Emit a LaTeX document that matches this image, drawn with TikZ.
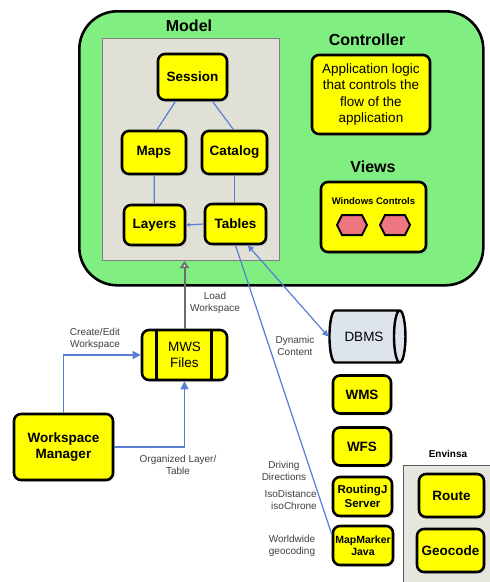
\documentclass[tikz,border=0pt]{standalone}
\usepackage{fontspec}
\setmainfont{Liberation Sans}
\usepackage{xcolor}
\usepackage{tikz}
\usetikzlibrary{arrows.meta, positioning, shapes.geometric, shadows}

\definecolor{mvcgreen}{RGB}{128,238,128}
\definecolor{modelgray}{RGB}{224,224,214}
\definecolor{boxyellow}{RGB}{255,255,0}
\definecolor{linkblue}{RGB}{88,126,212}
\definecolor{notegray}{RGB}{64,64,64}
\definecolor{hexpink}{RGB}{238,118,128}
\definecolor{dbfill}{RGB}{222,228,236}

\begin{document}
\begin{tikzpicture}[x=1pt, y=-1pt,
  yellowbox/.style={draw, line width=2.6pt, rounded corners=7pt, fill=boxyellow, align=center, inner sep=0pt,
    drop shadow={opacity=0.15, shadow xshift=2pt, shadow yshift=-2pt},
    font=\bfseries\fontsize{13.5}{16}\selectfont},
  note/.style={text=notegray, align=center, inner sep=0pt, font=\fontsize{10}{12.5}\selectfont},
  title/.style={inner sep=0pt, font=\bfseries\fontsize{16}{18}\selectfont},
  link/.style={draw=linkblue, line width=1.2pt},
  tip/.style={-{Triangle[length=8pt, width=8pt]}}]
\useasboundingbox[fill=white] (0,0) rectangle (490,582);

% MVC container
\node[draw, line width=2.6pt, rounded corners=38pt, fill=mvcgreen, anchor=north west,
  minimum width=404, minimum height=274] (mvc) at (78,10) {};
\node[draw=gray, line width=1pt, fill=modelgray, anchor=north west,
  minimum width=177, minimum height=222] (modelbox) at (102,38) {};
\node[title] (modeltitle) at (189,26) {Model};
\node[title] (ctrltitle) at (367,40) {Controller};
\node[title] (viewstitle) at (373,167) {Views};

% model
\node[yellowbox, minimum width=69, minimum height=46] (session) at (192.5,77) {Session};
\node[yellowbox, minimum width=64, minimum height=43] (maps) at (154,152.5) {Maps};
\node[yellowbox, minimum width=65, minimum height=43] (catalog) at (234.5,152.5) {Catalog};
\node[yellowbox, minimum width=61, minimum height=40] (layers) at (154.5,225) {Layers};
\node[yellowbox, minimum width=61, minimum height=40] (tables) at (235.5,224) {Tables};

\draw[link] ([xshift=-17pt]session.south) -- ([xshift=3pt]maps.north);
\draw[link] ([xshift=20pt]session.south) -- ([xshift=-1pt]catalog.north);
\draw[link] (maps) -- (layers);
\draw[link] (catalog.south) -- (catalog.south |- tables.north);
\draw[link, {Stealth[length=4pt, width=4pt]}-] (layers.east) -- (tables.west);

% controller and views
\node[yellowbox, minimum width=118, minimum height=79, font=\fontsize{13.5}{16.5}\selectfont] (ctrl) at (371,94.5)
  {Application logic\\that controls the\\flow of the\\application};
\node[yellowbox, minimum width=105, minimum height=70] (views) at (373.5,217) {};
\node[inner sep=0pt, font=\bfseries\fontsize{9.5}{11}\selectfont] (wincontrols) at (373.5,201) {Windows Controls};
\foreach \x in {352,395} {
  \draw[line width=2pt, fill=hexpink] (\x-15,225) -- (\x-10,215) -- (\x+10,215) -- (\x+15,225)
    -- (\x+10,235) -- (\x-10,235) -- cycle;
}

% workspace
\node[yellowbox, minimum width=85, minimum height=50, font=\fontsize{13.5}{16}\selectfont] (mws) at (184.5,355) {MWS\\Files};
\draw[line width=2.6pt] ([xshift=16pt]mws.north west) -- ([xshift=16pt]mws.south west);
\draw[line width=2.6pt] ([xshift=-17pt]mws.north east) -- ([xshift=-17pt]mws.south east);
\node[yellowbox, minimum width=99, minimum height=66] (wsm) at (63.5,447) {Workspace\\Manager};

\draw[draw=gray!85!black, line width=2pt, -{Triangle[length=7pt, width=9pt, fill=white]}]
  (mws.north) -- (mws.north |- modelbox.south);
\draw[link, tip] (wsm.north) |- (mws.west);
\draw[link, tip] (wsm.east) -| (mws.south);

\node[note] (loadlbl) at (215,303) {Load\\Workspace};
\node[note] (createlbl) at (95,339) {Create/Edit\\Workspace};
\node[note] (orglbl) at (178,465) {Organized Layer/\\Table};

% data sources
\node[cylinder, shape border rotate=0, draw, line width=2.4pt, fill=dbfill, aspect=1.2,
  minimum width=52, minimum height=76, inner sep=0pt, font=\fontsize{13.5}{16}\selectfont] (dbms) at (364,336.5) {DBMS};
\node[yellowbox, minimum width=58, minimum height=38] (wms) at (362,394.5) {WMS};
\node[yellowbox, minimum width=58, minimum height=38] (wfs) at (362,446.5) {WFS};
\node[yellowbox, minimum width=59, minimum height=39, font=\bfseries\fontsize{11.5}{14}\selectfont] (routing) at (362.5,496.5) {RoutingJ\\Server};
\node[yellowbox, minimum width=60, minimum height=39, font=\bfseries\fontsize{10.5}{12.5}\selectfont] (mapmarker) at (363,545.5) {MapMarker\\Java};

\draw[link, {Triangle[length=6pt, width=6pt]}-{Triangle[length=6pt, width=6pt]}] (tables.-60) -- (dbms.west);
\draw[link] (tables.south) -- (mapmarker.160);

\node[note] (dynlbl) at (295,346) {Dynamic\\Content};
\node[note] (drivelbl) at (284,471) {Driving\\Directions};
\node[note, align=right, anchor=east] (isolbl) at (317,500) {IsoDistance\\isoChrone};
\node[note] (geolbl) at (292,546) {Worldwide\\geocoding};

% Envinsa
\node[draw=gray!70!black, line width=1pt, fill=modelgray!80, anchor=north west,
  minimum width=100, minimum height=130] (envinsa) at (403,465) {};
\node[inner sep=0pt, font=\bfseries\fontsize{10}{12}\selectfont] (envlbl) at (448,454) {Envinsa};
\node[yellowbox, minimum width=65, minimum height=43] (route) at (451.5,495.5) {Route};
\node[yellowbox, minimum width=67, minimum height=43] (geocode) at (450.5,550.5) {Geocode};

\end{tikzpicture}
\end{document}
